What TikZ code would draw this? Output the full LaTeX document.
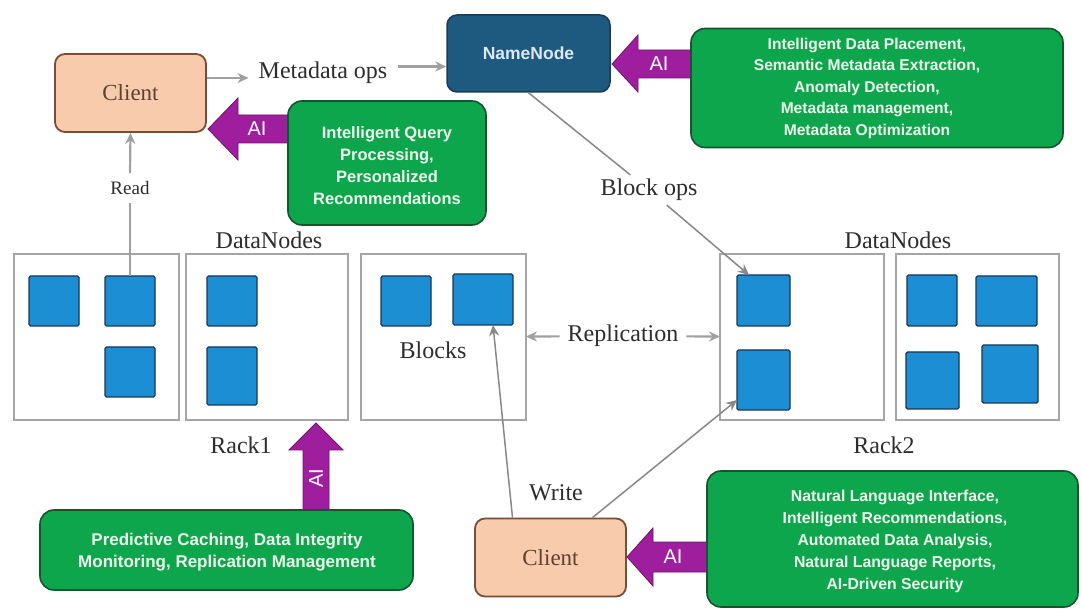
\documentclass[tikz,border=0pt]{standalone}
\usepackage{fontspec}
\setmainfont{Liberation Serif}
\setsansfont{Liberation Sans}
\usetikzlibrary{arrows.meta,calc}
\definecolor{peach}{RGB}{248,203,173}
\definecolor{peachdraw}{RGB}{120,78,52}
\definecolor{clienttext}{RGB}{95,65,50}
\definecolor{nnblue}{RGB}{30,90,128}
\definecolor{nndraw}{RGB}{22,60,88}
\definecolor{nntext}{RGB}{220,232,242}
\definecolor{gfill}{RGB}{14,166,76}
\definecolor{gdraw}{RGB}{20,85,45}
\definecolor{gtext}{RGB}{238,250,238}
\definecolor{aipurple}{RGB}{158,30,158}
\definecolor{aidraw}{RGB}{110,20,110}
\definecolor{blk}{RGB}{28,143,212}
\definecolor{blkdraw}{RGB}{25,55,85}
\definecolor{rackgray}{RGB}{165,165,165}
\definecolor{arrgray}{RGB}{160,160,160}
\definecolor{lblcol}{RGB}{45,45,45}
\begin{document}
\begin{tikzpicture}[x=1pt,y=-1pt,
  rackbox/.style={draw=rackgray, line width=1.6pt, fill=white, inner sep=0pt, outer sep=0pt, minimum height=166pt},
  blockbox/.style={draw=blkdraw, line width=1.4pt, fill=blk, rounded corners=1.5pt, inner sep=0pt, outer sep=0pt},
  clientbox/.style={draw=peachdraw, fill=peach, line width=1.8pt, rounded corners=10pt, minimum width=151pt, minimum height=78pt, text=clienttext, font=\fontsize{23}{26}\selectfont},
  nnbox/.style={draw=nndraw, fill=nnblue, line width=1.5pt, rounded corners=10pt, minimum width=163pt, minimum height=77pt, text=nntext, font=\sffamily\bfseries\fontsize{17.5}{20}\selectfont},
  gbox/.style={draw=gdraw, fill=gfill, line width=1.6pt, rounded corners=14pt, inner sep=0pt},
  gtxt/.style={text=gtext, align=center, font=\sffamily\bfseries, inner sep=0pt},
  lbl/.style={text=lblcol, font=\fontsize{24}{28}\selectfont, inner sep=3pt},
  aitext/.style={text=white, font=\sffamily\fontsize{20}{22}\selectfont, inner sep=0pt},
  aishape/.style={fill=aipurple, draw=aidraw, line width=0.8pt, line join=miter},
  grayarrow/.style={draw=arrgray, line width=2.2pt, -{Stealth[length=11pt,width=10pt]}},
  grayline/.style={draw=arrgray, line width=2.2pt},
  thinarrow/.style={draw=arrgray!85!black, line width=1.5pt, -{Stealth[length=11pt,width=10pt]}},
  thinline/.style={draw=arrgray!85!black, line width=1.5pt}
]
\useasboundingbox (0,0) rectangle (1082,609);
\fill[white] (0,0) rectangle (1082,609);

% racks
\node[rackbox, minimum width=165pt] (r1) at (96.5,337) {};
\node[rackbox, minimum width=162pt] (r2) at (267,337) {};
\node[rackbox, minimum width=165pt] (r3) at (443.5,337) {};
\node[rackbox, minimum width=164pt] (r4) at (802,337) {};
\node[rackbox, minimum width=163pt] (r5) at (977.5,337) {};

% blocks
\node[blockbox, minimum width=50pt, minimum height=50pt] (b11) at (54,301) {};
\node[blockbox, minimum width=50pt, minimum height=50pt] (b12) at (130,301) {};
\node[blockbox, minimum width=50pt, minimum height=50pt] (b13) at (130,372) {};
\node[blockbox, minimum width=50pt, minimum height=50pt] (b21) at (232,301) {};
\node[blockbox, minimum width=50pt, minimum height=58pt] (b22) at (232,376) {};
\node[blockbox, minimum width=50pt, minimum height=50pt] (b31) at (406,301) {};
\node[blockbox, minimum width=60pt, minimum height=51pt] (b32) at (483,299.5) {};
\node[blockbox, minimum width=53pt, minimum height=51pt] (b41) at (763.5,300.5) {};
\node[blockbox, minimum width=53pt, minimum height=60pt] (b42) at (763.5,380) {};
\node[blockbox, minimum width=50pt, minimum height=51pt] (b51) at (932,300.5) {};
\node[blockbox, minimum width=61pt, minimum height=50pt] (b52) at (1006.5,301) {};
\node[blockbox, minimum width=53pt, minimum height=57pt] (b53) at (932.5,380.5) {};
\node[blockbox, minimum width=56pt, minimum height=58pt] (b54) at (1010,374) {};

% main nodes
\node[clientbox] (c1) at (130.5,93) {Client};
\node[clientbox] (c2) at (550.5,557.5) {Client};
\node[nnbox] (nn) at (528.5,53.5) {NameNode};

% labels
\node[lbl, inner xsep=10pt] (meta) at (323,73) {Metadata ops};
\node[lbl, inner sep=8pt, font=\fontsize{19}{22}\selectfont] (read) at (130,188) {Read};
\node[lbl] (dn1) at (269,240) {DataNodes};
\node[lbl] (dn2) at (898,240) {DataNodes};
\node[lbl, inner sep=4pt] (bops) at (649,190) {Block ops};
\node[lbl] (blocks) at (433,350) {Blocks};
\node[lbl, inner sep=5pt, outer sep=3pt] (repl) at (623,336) {Replication};
\node[lbl] (rack1) at (241,445) {Rack1};
\node[lbl] (rack2) at (884,445) {Rack2};
\node[lbl] (write) at (556,493) {Write};

% connectors
\coordinate (m1) at ([yshift=15pt]c1.east);
\draw[grayarrow] (m1) -- (m1 -| meta.west);
\coordinate (m2) at ([yshift=-13pt]nn.west);
\draw[grayarrow] (m2 -| meta.east) -- (m2);
\draw[grayline] (b12.north) -- (read.south);
\draw[grayarrow] (read.north) -- (c1.south);
\draw[thinline] (nn.south) -- (bops);
\draw[thinarrow] (bops) -- ([xshift=12pt]b41.north west);
\draw[grayarrow] (repl) -- (r3);
\draw[grayarrow] (repl) -- (r4);
\draw[thinarrow] ([xshift=-38pt]c2.north) -- ([xshift=10pt]b32.south);
\draw[thinarrow] ([xshift=42pt]c2.north) -- ([yshift=-20pt]b42.west);

% AI arrows
\filldraw[aishape] (208,129) -- (238,98) -- (238,115) -- (294,115) -- (294,143) -- (238,143) -- (238,160) -- cycle;
\filldraw[aishape] (612,64) -- (638,35) -- (638,50) -- (697,50) -- (697,78) -- (638,78) -- (638,92) -- cycle;
\filldraw[aishape] (316,423) -- (343,450) -- (329,450) -- (329,513) -- (303,513) -- (303,450) -- (289,450) -- cycle;
\filldraw[aishape] (627,557) -- (653,528) -- (653,542) -- (712,542) -- (712,572) -- (653,572) -- (653,586) -- cycle;
\node[aitext] (ai1) at (257,129) {AI};
\node[aitext] (ai2) at (659,64) {AI};
\node[aitext, rotate=90] (ai3) at (316,478) {AI};
\node[aitext] (ai4) at (673,557) {AI};

% green boxes
\node[gbox, minimum width=198pt, minimum height=124pt] (g1) at (387,163) {};
\node[gbox, minimum width=372pt, minimum height=119pt] (g2) at (877,88) {};
\node[gbox, minimum width=373pt, minimum height=80pt] (g3) at (226.5,550) {};
\node[gbox, minimum width=371pt, minimum height=136pt] (g4) at (892.5,539) {};

\node[gtxt, font=\sffamily\bfseries\fontsize{16.5}{22}\selectfont] (g1t) at (387,166)
  {Intelligent Query\\Processing,\\Personalized\\Recommendations};
\node[gtxt, font=\sffamily\bfseries\fontsize{15.6}{21.5}\selectfont] (g2t) at (867,88)
  {Intelligent Data Placement,\\Semantic Metadata Extraction,\\Anomaly Detection,\\Metadata management,\\Metadata Optimization};
\node[gtxt, font=\sffamily\bfseries\fontsize{17}{22}\selectfont] (g3t) at (227,552)
  {Predictive Caching, Data Integrity\\Monitoring, Replication Management};
\node[gtxt, font=\sffamily\bfseries\fontsize{15.8}{22}\selectfont] (g4t) at (895,541)
  {Natural Language Interface,\\Intelligent Recommendations,\\Automated Data Analysis,\\Natural Language Reports,\\AI-Driven Security};
\end{tikzpicture}
\end{document}
